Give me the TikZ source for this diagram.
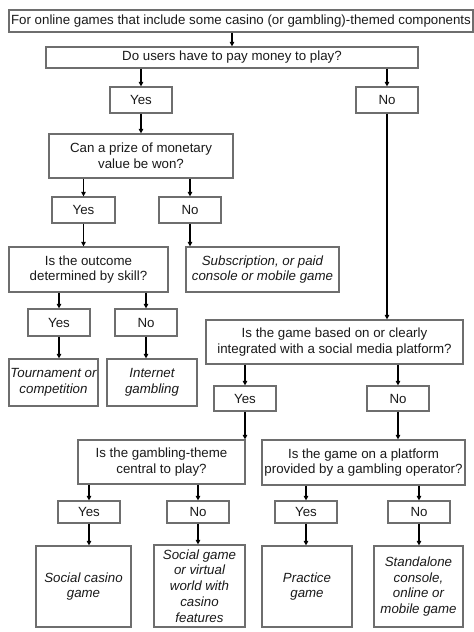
\documentclass[tikz,border=0pt]{standalone}
\usepackage{fontspec}
\setmainfont{Liberation Sans}
\usetikzlibrary{arrows.meta}
\definecolor{boxgray}{HTML}{6E6E6E}
\definecolor{txt}{HTML}{1A1A1A}
\begin{document}
\begin{tikzpicture}[x=1pt,y=-1pt,
  box/.style={draw=boxgray, line width=1.2pt, fill=white, align=center, inner sep=0pt,
    font=\fontsize{13.3}{15.8}\selectfont, text=txt},
  res/.style={box, font=\fontsize{13.3}{15.8}\selectfont\itshape},
  arr/.style={line width=1.5pt, -{Triangle[length=4.5pt,width=4.5pt]}}]
\useasboundingbox[fill=white] (0,0) rectangle (474,632);

\node[box, minimum width=464pt, minimum height=22pt] (top) at (241,21) {For online games that include some casino (or gambling)-themed components};
\node[box, minimum width=372pt, minimum height=21pt] (q1) at (232,57.5) {Do users have to pay money to play?};
\node[box, minimum width=62pt, minimum height=26pt] (y1) at (141,100) {Yes};
\node[box, minimum width=62pt, minimum height=26pt] (n1) at (387,100) {No};
\node[box, minimum width=184pt, minimum height=44pt] (q2) at (141,156) {Can a prize of monetary\\value be won?};
\node[box, minimum width=63pt, minimum height=26pt] (y2) at (83.5,210) {Yes};
\node[box, minimum width=62pt, minimum height=26pt] (n2) at (190,210) {No};
\node[box, minimum width=159pt, minimum height=45pt] (q3) at (88.5,269.5) {Is the outcome\\determined by skill?};
\node[res, minimum width=153pt, minimum height=45pt] (r1) at (262.5,269.5) {Subscription, or paid\\console or mobile game};
\node[box, minimum width=62pt, minimum height=27pt] (y3) at (59,322.5) {Yes};
\node[box, minimum width=62pt, minimum height=27pt] (n3) at (146,322.5) {No};
\node[res, minimum width=89pt, minimum height=47pt] (r2) at (53.5,382.5) {Tournament or\\competition};
\node[res, minimum width=90pt, minimum height=47pt] (r3) at (152,382.5) {Internet\\gambling};
\node[box, minimum width=257pt, minimum height=44pt] (q4) at (334.5,342) {Is the game based on or clearly\\integrated with a social media platform?};
\node[box, minimum width=62pt, minimum height=25pt] (y4) at (245,398.5) {Yes};
\node[box, minimum width=62pt, minimum height=25pt] (n4) at (398,398.5) {No};
\node[box, minimum width=167pt, minimum height=44pt] (q5) at (161.5,462) {Is the gambling-theme\\central to play?};
\node[box, minimum width=203pt, minimum height=45pt] (q6) at (363.5,462.5) {Is the game on a platform\\provided by a gambling operator?};
\node[box, minimum width=62pt, minimum height=22pt] (y5) at (89,512) {Yes};
\node[box, minimum width=62pt, minimum height=22pt] (n5) at (198,512) {No};
\node[box, minimum width=62pt, minimum height=22pt] (y6) at (306,512) {Yes};
\node[box, minimum width=62pt, minimum height=22pt] (n6) at (419,512) {No};
\node[res, minimum width=95pt, minimum height=81pt] (r4) at (83.5,586.5) {Social casino\\game};
\node[res, minimum width=91pt, minimum height=82pt] (r5) at (199.5,586) {Social game\\or virtual\\world with\\casino\\features};
\node[res, minimum width=90pt, minimum height=81pt] (r6) at (307,586.5) {Practice\\game};
\node[res, minimum width=89pt, minimum height=81pt] (r7) at (418.5,586.5) {Standalone\\console,\\online or\\mobile game};

\draw[arr] (q1.north |- top.south) -- (q1.north);
\draw[arr] (y1.north |- q1.south) -- (y1.north);
\draw[arr] (n1.north |- q1.south) -- (n1.north);
\draw[arr] (y1.south) -- (y1.south |- q2.north);
\draw[arr] (y2.north |- q2.south) -- (y2.north);
\draw[arr] (n2.north |- q2.south) -- (n2.north);
\draw[arr] (y2.south) -- (y2.south |- q3.north);
\draw[arr] (n2.south) -- (n2.south |- r1.north);
\draw[arr] (y3.north |- q3.south) -- (y3.north);
\draw[arr] (n3.north |- q3.south) -- (n3.north);
\draw[arr] (y3.south) -- (y3.south |- r2.north);
\draw[arr] (n3.south) -- (n3.south |- r3.north);
\draw[arr] (n1.south) -- (n1.south |- q4.north);
\draw[arr] (y4.north |- q4.south) -- (y4.north);
\draw[arr] (n4.north |- q4.south) -- (n4.north);
\draw[arr] (y4.south) -- (y4.south |- q5.north);
\draw[arr] (n4.south) -- (n4.south |- q6.north);
\draw[arr] (y5.north |- q5.south) -- (y5.north);
\draw[arr] (n5.north |- q5.south) -- (n5.north);
\draw[arr] (y6.north |- q6.south) -- (y6.north);
\draw[arr] (n6.north |- q6.south) -- (n6.north);
\draw[arr] (y5.south) -- (y5.south |- r4.north);
\draw[arr] (n5.south) -- (n5.south |- r5.north);
\draw[arr] (y6.south) -- (y6.south |- r6.north);
\draw[arr] (n6.south) -- (n6.south |- r7.north);
\end{tikzpicture}
\end{document}
